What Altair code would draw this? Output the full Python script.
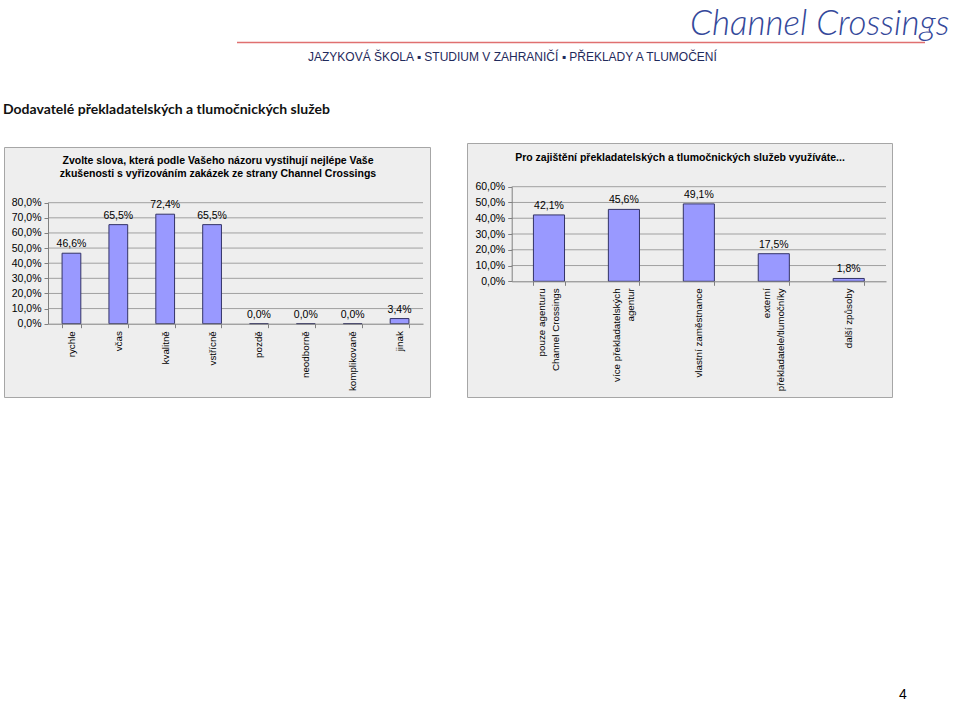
import altair as alt
import pandas as pd

# ---------------- data ----------------
page_title = "Dodavatelé překladatelských a tlumočnických služeb"
brand = "Channel Crossings"
tagline = "JAZYKOVÁ ŠKOLA ▪ STUDIUM V ZAHRANIČÍ ▪ PŘEKLADY A TLUMOČENÍ"
page_no = "4"

left_title = [
    "Zvolte slova, která podle Vašeho názoru vystihují nejlépe Vaše",
    "zkušenosti s vyřizováním zakázek ze strany Channel Crossings",
]
left_cats = ["rychle", "včas", "kvalitně", "vstřícně", "pozdě", "neodborně", "komplikovaně", "jinak"]
left_vals = [46.6, 65.5, 72.4, 65.5, 0.0, 0.0, 0.0, 3.4]
left_ticks = [0, 10, 20, 30, 40, 50, 60, 70, 80]

right_title = "Pro zajištění překladatelských a tlumočnických služeb využíváte..."
right_cats = [
    "pouze agenturu|Channel Crossings",
    "více překladatelských|agentur",
    "vlastní zaměstnance",
    "externí|překladatele/tlumočníky",
    "další způsoby",
]
right_vals = [42.1, 45.6, 49.1, 17.5, 1.8]
right_ticks = [0, 10, 20, 30, 40, 50, 60]

# ---------------- style ----------------
W, H = 960, 701
FONT = "Liberation Sans"
BAR_FILL = "#9999FF"
BAR_STROKE = "#333366"
BOX_FILL = "#EEEEEE"
BOX_STROKE = "#A6A6A6"
GRID = "#A0A0A0"
AXIS = "#808080"
PCT = "replace(format(datum.value, '.1f'), '.', ',') + '%'"
XLAB_SIZE = 9.8

one = alt.Data(values=[{"k": 1}])


def deco_text(text, x, y, **kw):
    return alt.Chart(one).mark_text(text=text, **kw).encode(x=alt.value(x), y=alt.value(y))


def box(x0, x1, y0, y1):
    return alt.Chart(one).mark_rect(fill=BOX_FILL, stroke=BOX_STROKE, strokeWidth=1).encode(
        x=alt.value(x0), x2=alt.value(x1), y=alt.value(y0), y2=alt.value(y1)
    )


def bar_panel(cats, vals, ticks, xr, yr, pin, pout, multiline):
    df = pd.DataFrame({"cat": cats, "v": vals})
    grid_df = pd.DataFrame({"v": ticks[1:]})
    X = alt.X(
        "cat:N", sort=cats,
        scale=alt.Scale(domain=cats, range=list(xr), paddingInner=pin, paddingOuter=pout),
        axis=alt.Axis(
            orient="bottom", offset=yr[0] - H, title=None, grid=False, zindex=1,
            domainColor=AXIS, tickColor=AXIS, tickSize=4, tickBand="extent",
            labels=not multiline,
            labelAngle=-90, labelPadding=3, labelFont=FONT, labelFontSize=XLAB_SIZE,
            labelColor="#000000",
        ),
    )
    Y = alt.Y(
        "v:Q",
        scale=alt.Scale(domain=[ticks[0], ticks[-1]], range=list(yr), nice=False, zero=True),
        axis=alt.Axis(
            orient="left", offset=-xr[0], title=None, grid=False, zindex=1,
            values=ticks, labelExpr=PCT, domainColor=AXIS, tickColor=AXIS,
            tickSize=4, labelPadding=3, labelFont=FONT, labelFontSize=10.5,
            labelColor="#000000",
        ),
    )
    grid = alt.Chart(grid_df).mark_rule(color=GRID, strokeWidth=1).encode(
        y=Y, x=alt.value(xr[0]), x2=alt.value(xr[1])
    )
    bars = alt.Chart(df).mark_bar(fill=BAR_FILL, stroke=BAR_STROKE, strokeWidth=1).encode(x=X, y=Y)
    labels = (
        alt.Chart(df)
        .transform_calculate(lbl="replace(format(datum.v, '.1f'), '.', ',') + '%'")
        .mark_text(font=FONT, fontSize=10.5, color="#000000", baseline="alphabetic", dy=-6)
        .encode(x=X, y=Y, text="lbl:N")
    )
    parts = [grid, bars, labels]
    if multiline:
        # category names (wrapped on '|') placed through the same x scale
        base = alt.Chart(df).transform_calculate(
            lines="split(datum.cat, '|')", n="length(split(datum.cat, '|'))"
        )
        for nlines, shift in ((1, 0), (2, -7)):
            parts.append(
                base.transform_filter(f"datum.n == {nlines}")
                .mark_text(font=FONT, fontSize=XLAB_SIZE, color="#000000", angle=270,
                           align="right", baseline="middle", lineHeight=14, dy=shift)
                .encode(x=X, y=alt.value(yr[0] + 7), text="lines:N")
            )
    return alt.layer(*parts)


left = bar_panel(left_cats, left_vals, left_ticks, (48, 423), (323.7, 202.7), 0.6, 0.3, False)
right = bar_panel(right_cats, right_vals, right_ticks, (511.7, 886), (281.3, 186.7), 0.585, 0.29, True)

header_line = alt.Chart(one).mark_rule(color="#E07070", strokeWidth=1.3).encode(
    x=alt.value(237), x2=alt.value(925), y=alt.value(42.5)
)

layers = [
    header_line,
    deco_text(brand, 690, 35, font="Lato", fontSize=35, fontStyle="italic", fontWeight=300,
              color="#34489A", align="left", baseline="alphabetic"),
    deco_text(tagline, 308, 61, font="Liberation Sans", fontSize=12,
              color="#1F2A5C", align="left", baseline="alphabetic"),
    deco_text(page_title, 3, 114, font="Lato", fontSize=14, fontWeight="bold",
              color="#111111", align="left", baseline="alphabetic"),
    box(4.5, 430.5, 147.5, 397.5),
    box(467.5, 892.5, 143.5, 397.5),
    deco_text(left_title, 218, 164, font=FONT, fontSize=10.5, fontWeight="bold",
              color="#000000", align="center", baseline="alphabetic", lineHeight=13),
    deco_text(right_title, 680, 161, font=FONT, fontSize=10.5, fontWeight="bold",
              color="#000000", align="center", baseline="alphabetic"),
    left,
    right,
    deco_text(page_no, 903, 699, font=FONT, fontSize=14, color="#000000",
              align="center", baseline="alphabetic"),
]

chart = (
    alt.layer(*layers)
    .resolve_scale(x="independent", y="independent")
    .resolve_axis(x="independent", y="independent")
    .properties(width=W, height=H, padding=0, autosize=alt.AutoSizeParams(type="none"),
                background="#FFFFFF")
    .configure_view(stroke=None)
)

chart.save("out.html", embed_options={"renderer": "svg", "actions": False})
